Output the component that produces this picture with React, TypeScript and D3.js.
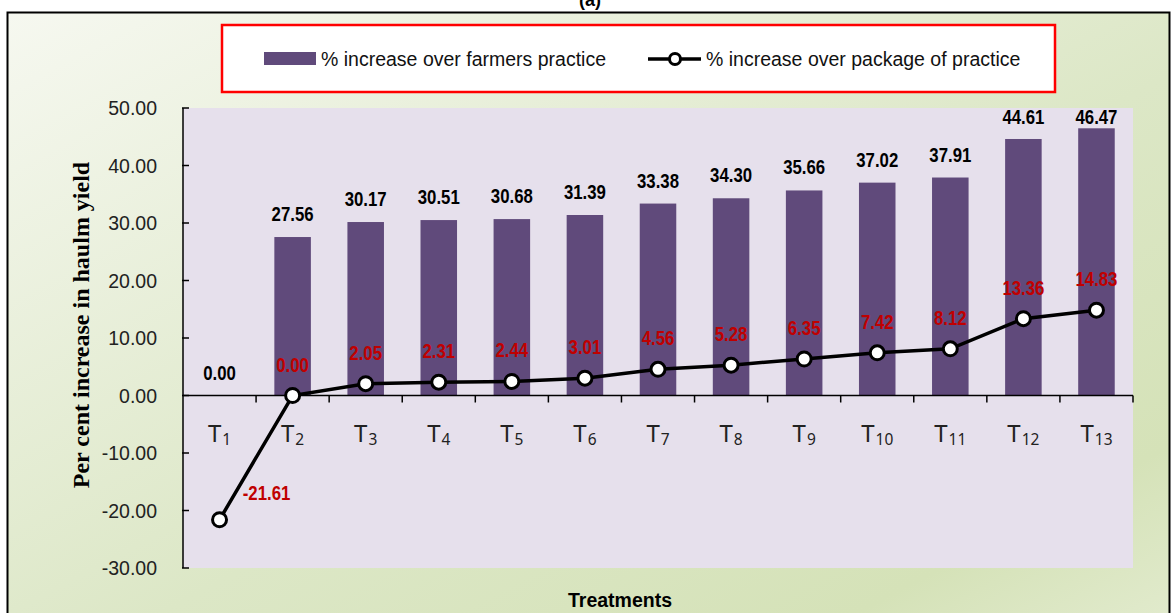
import React from 'react';
import * as d3 from 'd3';

const treatments = ['1', '2', '3', '4', '5', '6', '7', '8', '9', '10', '11', '12', '13'];
const overFarmers = [0.0, 27.56, 30.17, 30.51, 30.68, 31.39, 33.38, 34.3, 35.66, 37.02, 37.91, 44.61, 46.47];
const overPackage = [-21.61, 0.0, 2.05, 2.31, 2.44, 3.01, 4.56, 5.28, 6.35, 7.42, 8.12, 13.36, 14.83];
const yTicks = [-30, -20, -10, 0, 10, 20, 30, 40, 50];

const W = 1172;
const H = 613;
const plot = { left: 183, right: 1133, top: 108, bottom: 568 };
const arial = '"Liberation Sans", Arial, sans-serif';

// bold condensed label (no narrow font installed, so squeeze horizontally)
function Label({ x, y, color, children }: { x: number; y: number; color: string; children: React.ReactNode }) {
  return (
    <text transform={`translate(${x},${y}) scale(0.84,1)`} textAnchor="middle"
      fontFamily={arial} fontWeight="bold" fontSize={20} fill={color}>
      {children}
    </text>
  );
}

function App() {
  const x = d3.scaleBand<string>()
    .domain(treatments)
    .range([plot.left, plot.right])
    .paddingInner(0.5)
    .paddingOuter(0.25);
  const y = d3.scaleLinear().domain([-30, 50]).range([plot.bottom, plot.top]);
  const step = x.step();
  const cx = (t: string) => (x(t) as number) + x.bandwidth() / 2;

  const line = d3.line<number>()
    .x((d, i) => cx(treatments[i]))
    .y(d => y(d));

  // boundaries between categories for x ticks
  const xTickPos = treatments.map((t, i) => plot.left + step * (i + 1));

  return (
    <svg width={W} height={H} style={{ position: 'absolute', left: 0, top: 0 }}>
      <defs>
        <linearGradient id="bg" x1="0" y1="0" x2="1" y2="1">
          <stop offset="0" stopColor="#F6F8F0" />
          <stop offset="0.55" stopColor="#DCE7C6" />
          <stop offset="0.85" stopColor="#D5E2B8" />
          <stop offset="1" stopColor="#E2EBCE" />
        </linearGradient>
      </defs>
      <rect x={0} y={0} width={W} height={H} fill="#fff" />
      <text x={590} y={6} textAnchor="middle" fontFamily={arial} fontWeight="bold" fontSize={18}>(a)</text>
      <rect x={7.5} y={12.5} width={1162} height={620} fill="url(#bg)" stroke="#000" strokeWidth={2} />

      {/* legend */}
      <rect x={222} y={25} width={833} height={67} fill="#fff" stroke="#FF0000" strokeWidth={2.5} />
      <rect x={264} y={52} width={52} height={13} fill="#604A7B" />
      <text x={321} y={66} fontFamily={arial} fontSize={19.5} fill="#111">% increase over farmers practice</text>
      <line x1={648} x2={701} y1={59} y2={59} stroke="#000" strokeWidth={3.5} />
      <circle cx={675} cy={59} r={5.5} fill="#fff" stroke="#000" strokeWidth={3} />
      <text x={706} y={66} fontFamily={arial} fontSize={19.5} fill="#111">% increase over package of practice</text>

      {/* plot area */}
      <rect x={plot.left} y={plot.top} width={plot.right - plot.left} height={plot.bottom - plot.top} fill="#E6E0EC" />

      {/* bars */}
      {treatments.map((t, i) => {
        const v = overFarmers[i];
        return (
          <rect key={'b' + t} x={x(t)} y={y(Math.max(0, v))} width={x.bandwidth()}
            height={Math.abs(y(v) - y(0))} fill="#604A7B" />
        );
      })}

      {/* y axis */}
      <line x1={plot.left} x2={plot.left} y1={plot.top} y2={plot.bottom} stroke="#000" strokeWidth={1.5} />
      {yTicks.map(v => (
        <g key={'yt' + v}>
          <line x1={plot.left - 1} x2={plot.left + 6} y1={y(v)} y2={y(v)} stroke="#000" strokeWidth={1.5} />
          <text x={157} y={y(v) + 7} textAnchor="end" fontFamily={arial} fontSize={19.5} fill="#222">{v.toFixed(2)}</text>
        </g>
      ))}
      <text transform="translate(89,325) rotate(-90)" textAnchor="middle"
        fontFamily='"Liberation Serif", "Times New Roman", serif' fontWeight="bold" fontSize={24}>
        Per cent increase in haulm yield
      </text>

      {/* x axis at zero */}
      <line x1={plot.left} x2={plot.right} y1={y(0)} y2={y(0)} stroke="#000" strokeWidth={1.5} />
      {xTickPos.map((p, i) => (
        <line key={'xt' + i} x1={p} x2={p} y1={y(0)} y2={y(0) + 7} stroke="#000" strokeWidth={1.5} />
      ))}
      {treatments.map(t => (
        <text key={'xl' + t} x={cx(t)} y={442} textAnchor="middle" fontFamily='"Noto Sans", "DejaVu Sans", sans-serif' fill="#222">
          <tspan fontSize={24}>T</tspan>
          <tspan fontSize={15.5} dx={1} dy={3}>{t}</tspan>
        </text>
      ))}
      <text x={620} y={607} textAnchor="middle" fontFamily={arial} fontWeight="bold" fontSize={19.5}>Treatments</text>

      {/* bar labels */}
      {treatments.map((t, i) => {
        const v = overFarmers[i];
        return (
          <Label key={'bl' + t} x={cx(t)} y={Math.max(y(v) - 16, 124)} color="#000">{v.toFixed(2)}</Label>
        );
      })}

      {/* line series */}
      <path d={line(overPackage) as string} fill="none" stroke="#000" strokeWidth={3.5} />
      {treatments.map((t, i) => (
        <circle key={'p' + t} cx={cx(t)} cy={y(overPackage[i])} r={7} fill="#fff" stroke="#000" strokeWidth={3} />
      ))}
      {treatments.map((t, i) => {
        const v = overPackage[i];
        const neg = v < 0;
        return (
          <Label key={'pl' + t} x={cx(t) + (neg ? 47 : 0)} y={y(v) + (neg ? -20 : -24)} color="#C00000">
            {v.toFixed(2)}
          </Label>
        );
      })}
    </svg>
  );
}

export default App;
